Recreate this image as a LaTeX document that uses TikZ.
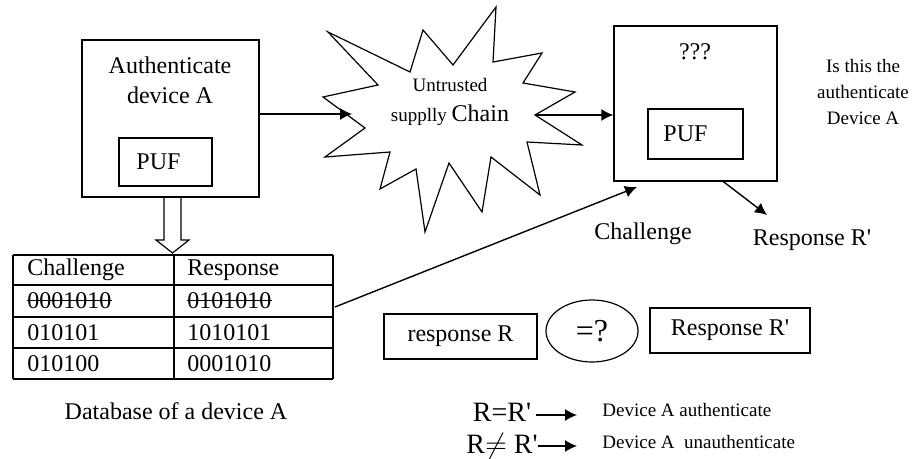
\documentclass[tikz,border=0pt]{standalone}
\usepackage{fontspec}
\setmainfont{Liberation Serif}
\usetikzlibrary{arrows.meta,calc,shapes.geometric}

\newcommand{\pr}{\textquotesingle}
\tikzset{
  box/.style={draw=black, line width=0.7pt, inner sep=0pt},
  txt/.style={inner sep=0pt, font=\fontsize{12}{15}\selectfont},
  small/.style={inner sep=0pt, font=\fontsize{9.5}{13}\selectfont},
  arr/.style={line width=0.7pt, -{Latex[length=6pt,width=6pt]}},
}

\begin{document}
\begin{tikzpicture}[x=0.5pt,y=-0.5pt]
    \useasboundingbox (0,0) rectangle (914,459);

    % genuine device
    \node[box, minimum width=88.5pt, minimum height=78.5pt] (devA) at (170.5,118.5) {};
    \node[txt, align=center] (devAtxt) at (170,80) {Authenticate\\device A};
    \node[box, txt, minimum width=46.5pt, minimum height=24pt] (pufA) at (165.5,162) {PUF\hspace*{7pt}};

    % hollow arrow down to the database
    \draw[line width=0.6pt] (164,197) -- (164,240) -- (156,240) -- (172.5,253)
      -- (189,240) -- (181,240) -- (181,197);

    % database table
    \foreach \y in {255, 285, 317, 348, 379} {
      \draw[line width=0.7pt] (13,\y) -- (333,\y);
    }
    \foreach \x in {13, 174, 333} {
      \draw[line width=0.7pt] (\x,255) -- (\x,379);
    }
    \node[txt, anchor=west] (c0) at (27,270) {Challenge};
    \node[txt, anchor=west] (r0) at (187,270) {Response};
    \node[txt, anchor=west] (c1) at (27,301) {0001010};
    \node[txt, anchor=west] (r1) at (187,301) {0101010};
    \draw[line width=0.5pt] (c1.west) -- (c1.east);
    \draw[line width=0.5pt] (r1.west) -- (r1.east);
    \node[txt, anchor=west] (c2) at (27,332.5) {010101};
    \node[txt, anchor=west] (r2) at (187,332.5) {1010101};
    \node[txt, anchor=west] (c3) at (27,363.5) {010100};
    \node[txt, anchor=west] (r3) at (187,363.5) {0001010};
    \coordinate (tblR) at (335,307);
    \node[txt] (dbtxt) at (176,411) {Database of a device A};

    % supply chain burst
    \draw[line width=0.6pt] (328,32) -- (410,72) -- (423,30) -- (453,65) -- (496,7)
      -- (493,62) -- (542,53) -- (523,83) -- (575,92) -- (535,115) -- (582,145)
      -- (527,142) -- (540,195) -- (491,157) -- (482,212) -- (449,163) -- (425,232)
      -- (416,169) -- (380,189) -- (390,152) -- (325,157) -- (365,128) -- (323,97)
      -- (378,85) -- cycle;
    \coordinate (starL) at (352,114);
    \coordinate (starR) at (535,115);
    \node[small] (untr) at (450,85) {Untrusted};
    \node[inner sep=0pt] (chain) at (450,115)
      {\fontsize{9.5}{13}\selectfont supplly \fontsize{12}{15}\selectfont Chain};

    % device under test
    \node[box, minimum width=81.5pt, minimum height=77.5pt] (devX) at (695.5,103.5) {};
    \node[txt] (qqq) at (695,52) {???};
    \node[box, txt, minimum width=47.5pt, minimum height=25pt] (pufX) at (695.5,134) {PUF\hspace*{10pt}};
    \node[small, align=center] (isthis) at (863,92) {Is this the\\authenticate\\Device A};

    \draw[arr] (devA.east |- starL) -- (starL);
    \draw[arr] (starR) -- (devX.west |- starR);

    \coordinate (chIn) at (637,187);
    \draw[arr] (tblR) -- (chIn);
    \node[txt] (chtxt) at (643,234) {Challenge};
    \coordinate (rOut) at (767,215);
    \draw[arr] ($(devX.south west)!0.67!(devX.south east)$) -- (rOut);
    \node[txt] (rtxt) at (812,240) {Response R\pr};

    % comparison
    \node[box, txt, minimum width=76.5pt, minimum height=22.5pt] (respR) at (460.5,336.5) {response R};
    \node[draw, line width=0.6pt, ellipse, minimum width=46pt, minimum height=31pt, inner sep=0pt,
      font=\fontsize{16}{18}\selectfont] (cmp) at (592,331) {=?};
    \node[box, txt, minimum width=80pt, minimum height=22.5pt] (respX) at (730,330.5) {Response R\pr};

    % outcomes
    \node[txt, font=\fontsize{14}{16}\selectfont] (eq) at (502,412) {R=R\pr};
    \node[txt, font=\fontsize{14}{16}\selectfont] (neq) at (502,446) {R$\neq$ R\pr};
    \node[small, anchor=west] (ok) at (602,410) {Device A authenticate};
    \node[small, anchor=west] (nok) at (602,442) {Device A\ \ unauthenticate};
    \coordinate (eqB) at (577,415);
    \coordinate (neqB) at (577,446);
    \draw[arr] (eq.east |- eqB) ++(4,0) -- (eqB);
    \draw[arr] (neq.east |- neqB) -- (neqB);
\end{tikzpicture}
\end{document}
